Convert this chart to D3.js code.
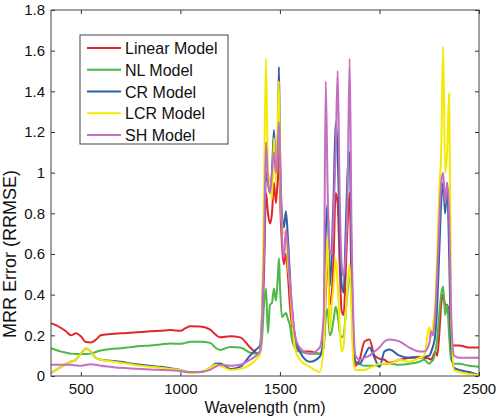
<!DOCTYPE html>
<html><head><meta charset="utf-8">
<script src="https://cdn.jsdelivr.net/npm/d3@7"></script>
<style>body{margin:0;background:#fff}svg{display:block}text{font-family:"Liberation Sans",Arial,sans-serif;fill:#111}</style>
</head><body><svg id="c" width="500" height="420"></svg>
<script>
const wavelengths=[350,375,400,425,450,475,500,525,550,575,600,650,700,750,800,850,900,950,1000,1025,1050,1100,1150,1175,1200,1250,1300,1350,1380,1400,1410,1420,1430,1440,1450,1460,1470,1480,1490,1495,1500,1510,1520,1530,1540,1550,1560,1575,1600,1650,1700,1720,1730,1740,1750,1760,1770,1780,1790,1800,1810,1820,1830,1840,1850,1860,1870,1880,1900,1925,1950,1975,2000,2025,2050,2100,2150,2200,2225,2250,2260,2270,2280,2290,2300,2310,2320,2330,2340,2350,2360,2375,2400,2450,2500];
const linearModel=[0.26,0.25,0.236,0.22,0.20,0.21,0.195,0.167,0.165,0.178,0.2,0.206,0.21,0.213,0.216,0.22,0.222,0.226,0.222,0.235,0.245,0.243,0.228,0.205,0.19,0.195,0.19,0.14,0.115,0.11,0.25,0.5,0.9,0.8,0.75,0.8,0.95,0.85,1.0,1.1,0.9,0.65,0.55,0.6,0.5,0.35,0.25,0.15,0.12,0.12,0.11,0.14,0.4,0.6,0.35,0.4,0.6,0.9,0.85,0.55,0.32,0.3,0.5,0.75,0.9,0.4,0.1,0.05,0.08,0.17,0.18,0.1,0.085,0.08,0.065,0.08,0.09,0.095,0.09,0.085,0.08,0.1,0.12,0.1,0.2,0.35,0.4,0.35,0.35,0.3,0.15,0.15,0.15,0.14,0.14];
const nlModel=[0.137,0.128,0.12,0.115,0.11,0.108,0.108,0.108,0.11,0.118,0.125,0.133,0.137,0.142,0.147,0.15,0.155,0.16,0.158,0.163,0.168,0.168,0.163,0.14,0.128,0.143,0.14,0.115,0.11,0.12,0.18,0.35,0.43,0.21,0.35,0.36,0.43,0.37,0.5,0.58,0.45,0.29,0.3,0.31,0.28,0.25,0.18,0.14,0.12,0.11,0.11,0.15,0.28,0.33,0.2,0.22,0.28,0.34,0.3,0.22,0.19,0.2,0.3,0.42,0.5,0.38,0.12,0.07,0.06,0.05,0.05,0.05,0.055,0.06,0.06,0.055,0.06,0.07,0.08,0.06,0.07,0.08,0.12,0.18,0.3,0.4,0.44,0.3,0.35,0.2,0.08,0.06,0.06,0.05,0.045];
const crModel=[0.015,0.03,0.045,0.06,0.07,0.08,0.11,0.135,0.12,0.09,0.08,0.075,0.07,0.062,0.055,0.05,0.045,0.038,0.03,0.022,0.018,0.02,0.04,0.06,0.062,0.035,0.045,0.1,0.13,0.15,0.3,0.6,1.0,0.95,0.9,1.0,1.21,1.0,1.2,1.52,1.15,0.8,0.73,0.81,0.68,0.5,0.34,0.2,0.12,0.07,0.095,0.2,0.7,0.85,0.44,0.6,0.9,1.25,1.1,0.7,0.45,0.41,0.7,1.0,1.1,0.55,0.15,0.07,0.06,0.1,0.14,0.09,0.045,0.12,0.13,0.1,0.09,0.09,0.095,0.1,0.12,0.15,0.2,0.35,0.6,0.85,0.95,0.8,0.95,0.6,0.15,0.04,0.03,0.02,0.005];
const lcrModel=[0.015,0.03,0.045,0.06,0.07,0.08,0.11,0.137,0.12,0.09,0.08,0.072,0.065,0.058,0.05,0.045,0.04,0.035,0.03,0.02,0.015,0.02,0.04,0.055,0.05,0.03,0.035,0.055,0.08,0.11,0.31,0.9,1.56,1.0,0.95,0.87,1.17,0.95,1.3,1.45,1.0,0.75,0.7,0.7,0.55,0.45,0.3,0.14,0.08,0.045,0.02,0.15,0.45,0.69,0.22,0.35,0.45,0.58,0.45,0.25,0.12,0.15,0.3,0.45,0.55,0.3,0.06,0.03,0.03,0.03,0.04,0.05,0.06,0.06,0.06,0.08,0.07,0.09,0.1,0.24,0.19,0.26,0.35,0.6,0.9,1.1,1.62,1.0,1.1,1.39,0.3,0.03,0.02,0.01,0.005];
const shModel=[0.055,0.055,0.055,0.055,0.055,0.052,0.05,0.055,0.058,0.055,0.05,0.045,0.04,0.037,0.035,0.032,0.03,0.028,0.025,0.02,0.02,0.02,0.03,0.045,0.055,0.05,0.055,0.08,0.1,0.12,0.25,0.6,1.15,0.95,0.9,1.0,1.1,1.0,1.15,1.25,1.05,0.7,0.58,0.72,0.62,0.45,0.35,0.2,0.14,0.11,0.14,0.3,1.45,0.9,0.62,0.6,0.8,1.1,1.5,0.9,0.55,0.49,0.6,0.9,1.56,0.7,0.25,0.1,0.08,0.09,0.1,0.12,0.14,0.17,0.18,0.17,0.14,0.12,0.12,0.16,0.22,0.2,0.3,0.5,0.75,0.95,1.0,0.85,0.95,0.8,0.3,0.1,0.09,0.09,0.09];
const seriesNames=["Linear Model","NL Model","CR Model","LCR Model","SH Model"];
const seriesColors=["#e3262b","#4cb847","#2f5fa8","#f2ea00","#c46fbf"];
const xTicks=[500,1000,1500,2000,2500];
const yTicks=[0,0.2,0.4,0.6,0.8,1,1.2,1.4,1.6,1.8];

const seriesValues=[linearModel,nlModel,crModel,lcrModel,shModel];
const svg=d3.select("#c");
const L=51,R=479,T=10,B=376;
const x=d3.scaleLinear().domain([350,2500]).range([L,R]);
const y=d3.scaleLinear().domain([0,1.8]).range([B,T]);

svg.append("defs").append("clipPath").attr("id","clip").append("rect").attr("x",L).attr("y",T).attr("width",R-L).attr("height",B-T);

const line=d3.line().x(d=>x(d[0])).y(d=>y(d[1])).curve(d3.curveMonotoneX);
const g=svg.append("g").attr("clip-path","url(#clip)");
seriesValues.forEach((vals,i)=>{
  g.append("path").datum(wavelengths.map((w,j)=>[w,vals[j]]))
   .attr("d",line).attr("fill","none").attr("stroke",seriesColors[i])
   .attr("stroke-width",2).attr("stroke-linejoin","round");
});

const fmt=d=>String(+d.toFixed(1));
const ax=svg.append("g").attr("transform",`translate(0,${B})`)
  .call(d3.axisBottom(x).tickValues(xTicks).tickSize(-4).tickPadding(7).tickFormat(d3.format("d")));
const ay=svg.append("g").attr("transform",`translate(${L},0)`)
  .call(d3.axisLeft(y).tickValues(yTicks).tickSize(-4).tickPadding(6).tickFormat(fmt));
const axT=svg.append("g").attr("transform",`translate(0,${T})`)
  .call(d3.axisTop(x).tickValues(xTicks).tickSize(-4).tickFormat(""));
const ayR=svg.append("g").attr("transform",`translate(${R},0)`)
  .call(d3.axisRight(y).tickValues(yTicks).tickSize(-4).tickFormat(""));
[ax,ay,axT,ayR].forEach(a=>{a.select(".domain").remove();a.selectAll("line").attr("stroke","#333");a.selectAll("text").style("font-size","15px").attr("fill","#111");});
svg.append("rect").attr("x",L).attr("y",T).attr("width",R-L).attr("height",B-T).attr("fill","none").attr("stroke","#444").attr("stroke-width",1);

svg.append("text").attr("x",(L+R)/2).attr("y",413).attr("text-anchor","middle").style("font-size","16px").text("Wavelength (nm)");
svg.append("text").attr("transform","translate(16,254) rotate(-90)").attr("text-anchor","middle").style("font-size","18px").text("MRR Error (RRMSE)");

const lg=svg.append("g");
lg.append("rect").attr("x",80).attr("y",35).attr("width",148).attr("height",109).attr("fill","#fff").attr("stroke","#444");
seriesNames.forEach((n,i)=>{
  const yy=48+i*21.75;
  lg.append("line").attr("x1",87).attr("x2",121).attr("y1",yy).attr("y2",yy).attr("stroke",seriesColors[i]).attr("stroke-width",2);
  lg.append("text").attr("x",125).attr("y",yy+6).style("font-size","16px").text(n);
});
</script></body></html>
